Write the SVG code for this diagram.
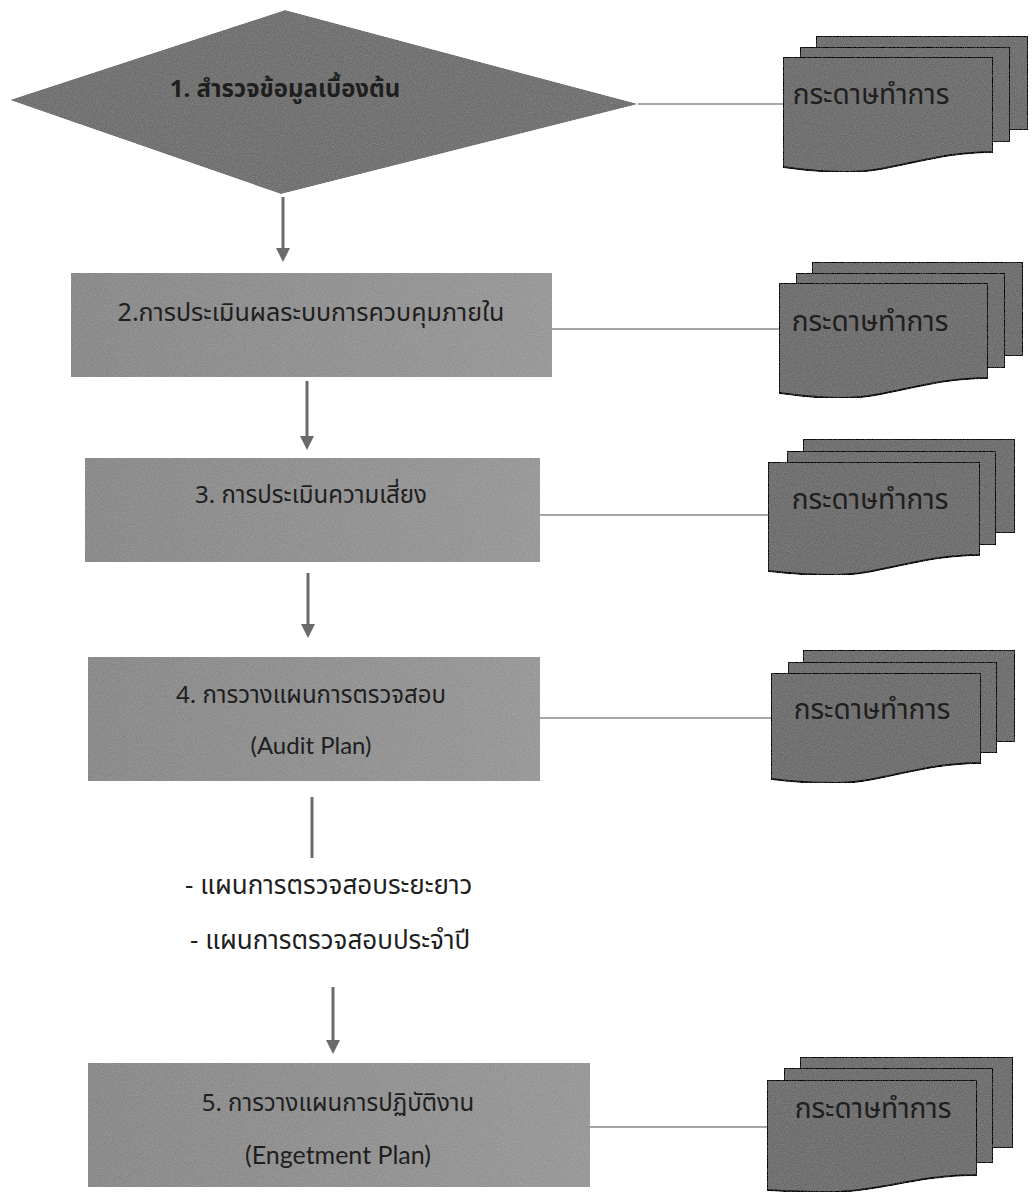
<svg xmlns="http://www.w3.org/2000/svg" width="1033" height="1193" viewBox="0 0 1033 1193">
<defs>
<style>
.th{font-family:"Noto Sans Thai","Noto Sans","DejaVu Sans",sans-serif;fill:#1e1e1e}
.en{font-family:Lato,"Liberation Sans",sans-serif;fill:#1e1e1e}
.doc{fill:#727272;stroke:#1a1a1a;stroke-width:2}
.link{stroke:#8a8a8a;stroke-width:1.5;fill:none}
.arr{stroke:#6a6a6a;stroke-width:3;fill:none}
</style>
<filter id="grain" x="0" y="0" width="100%" height="100%">
<feTurbulence type="fractalNoise" baseFrequency="0.9" numOctaves="2" seed="4" result="n"/>
<feColorMatrix in="n" type="saturate" values="0" result="g"/>
<feComposite in="SourceGraphic" in2="g" operator="arithmetic" k1="0" k2="1" k3="0.22" k4="-0.055" result="m"/>
<feComposite in="m" in2="SourceGraphic" operator="in"/>
</filter>
<linearGradient id="stepGrad" x1="0" y1="0" x2="1" y2="0">
<stop offset="0" stop-color="#8c8c8c"/>
<stop offset="1" stop-color="#9a9a9a"/>
</linearGradient>
</defs>

<g id="connectors">
<line class="link" x1="638" y1="104" x2="783" y2="104"/>
<line class="link" x1="552" y1="329" x2="779" y2="329"/>
<line class="link" x1="540" y1="515" x2="768" y2="515"/>
<line class="link" x1="540" y1="718" x2="771" y2="718"/>
<line class="link" x1="590" y1="1127" x2="767" y2="1127"/>
<path class="arr" d="M283,197 V250"/>
<path d="M276,248 L290,248 L283,262 Z" fill="#6a6a6a"/>
<path class="arr" d="M307,381 V438"/>
<path d="M300,436 L314,436 L307,450 Z" fill="#6a6a6a"/>
<path class="arr" d="M308,573 V626"/>
<path d="M301,624 L315,624 L308,638 Z" fill="#6a6a6a"/>
<path class="arr" d="M312,797 V858"/>
<path class="arr" d="M333,987 V1042"/>
<path d="M326,1040 L340,1040 L333,1054 Z" fill="#6a6a6a"/>
</g>

<g id="node1">
<polygon points="10,100 285,10 638,104 281,194" fill="#747474" filter="url(#grain)"/>
<text class="th" x="285" y="97" font-size="24" font-weight="bold" text-anchor="middle">1. สำรวจข้อมูลเบื้องต้น</text>
</g>

<g id="node2">
<rect x="71" y="273" width="481" height="104" fill="url(#stepGrad)" filter="url(#grain)"/>
<text class="th" x="311" y="321" font-size="25" text-anchor="middle">2.การประเมินผลระบบการควบคุมภายใน</text>
</g>

<g id="node3">
<rect x="85" y="458" width="455" height="104" fill="url(#stepGrad)" filter="url(#grain)"/>
<text class="th" x="311" y="503" font-size="24" text-anchor="middle">3. การประเมินความเสี่ยง</text>
</g>

<g id="node4">
<rect x="88" y="657" width="452" height="124" fill="url(#stepGrad)" filter="url(#grain)"/>
<text class="th" x="311" y="703" font-size="24" text-anchor="middle">4. การวางแผนการตรวจสอบ</text>
<text class="en" x="311" y="754" font-size="24" text-anchor="middle">(Audit Plan)</text>
</g>

<g id="note">
<text class="th" x="185" y="894" font-size="26">- แผนการตรวจสอบระยะยาว</text>
<text class="th" x="190" y="949" font-size="26">- แผนการตรวจสอบประจำปี</text>
</g>

<g id="node5">
<rect x="88" y="1063" width="502" height="124" fill="url(#stepGrad)" filter="url(#grain)"/>
<text class="th" x="338" y="1111" font-size="24" text-anchor="middle">5. การวางแผนการปฏิบัติงาน</text>
<text class="en" x="338" y="1164" font-size="25" text-anchor="middle">(Engetment Plan)</text>
</g>

<g id="doc1">
<rect class="doc" x="816" y="36" width="212" height="94" filter="url(#grain)"/>
<rect class="doc" x="800" y="47" width="210" height="95" filter="url(#grain)"/>
<path class="doc" d="M783,57 H993 V152 C933,152 893,172 848,172 C818,172 798,169 783,167 Z" filter="url(#grain)"/>
<text class="th" x="871" y="104" font-size="28" text-anchor="middle">กระดาษทำการ</text>
</g>

<g id="doc2">
<rect class="doc" x="812" y="262" width="211" height="94" filter="url(#grain)"/>
<rect class="doc" x="796" y="273" width="209" height="95" filter="url(#grain)"/>
<path class="doc" d="M779,283 H988 V378 C928,378 888,398 843,398 C813,398 794,395 779,393 Z" filter="url(#grain)"/>
<text class="th" x="870" y="331" font-size="28" text-anchor="middle">กระดาษทำการ</text>
</g>

<g id="doc3">
<rect class="doc" x="803" y="439" width="212" height="94" filter="url(#grain)"/>
<rect class="doc" x="787" y="451" width="209" height="94" filter="url(#grain)"/>
<path class="doc" d="M768,462 H980 V555 C920,555 880,575 835,575 C805,575 785,573 768,571 Z" filter="url(#grain)"/>
<text class="th" x="870" y="509" font-size="28" text-anchor="middle">กระดาษทำการ</text>
</g>

<g id="doc4">
<rect class="doc" x="803" y="650" width="212" height="92" filter="url(#grain)"/>
<rect class="doc" x="788" y="662" width="209" height="91" filter="url(#grain)"/>
<path class="doc" d="M771,673 H981 V763 C921,763 881,783 836,783 C806,783 786,781 771,779 Z" filter="url(#grain)"/>
<text class="th" x="872" y="719" font-size="28" text-anchor="middle">กระดาษทำการ</text>
</g>

<g id="doc5">
<rect class="doc" x="800" y="1057" width="213" height="91" filter="url(#grain)"/>
<rect class="doc" x="784" y="1068" width="209" height="95" filter="url(#grain)"/>
<path class="doc" d="M767,1080 H977 V1175 C917,1175 877,1192 832,1192 C802,1192 782,1191 767,1190 Z" filter="url(#grain)"/>
<text class="th" x="873" y="1118" font-size="28" text-anchor="middle">กระดาษทำการ</text>
</g>
</svg>
